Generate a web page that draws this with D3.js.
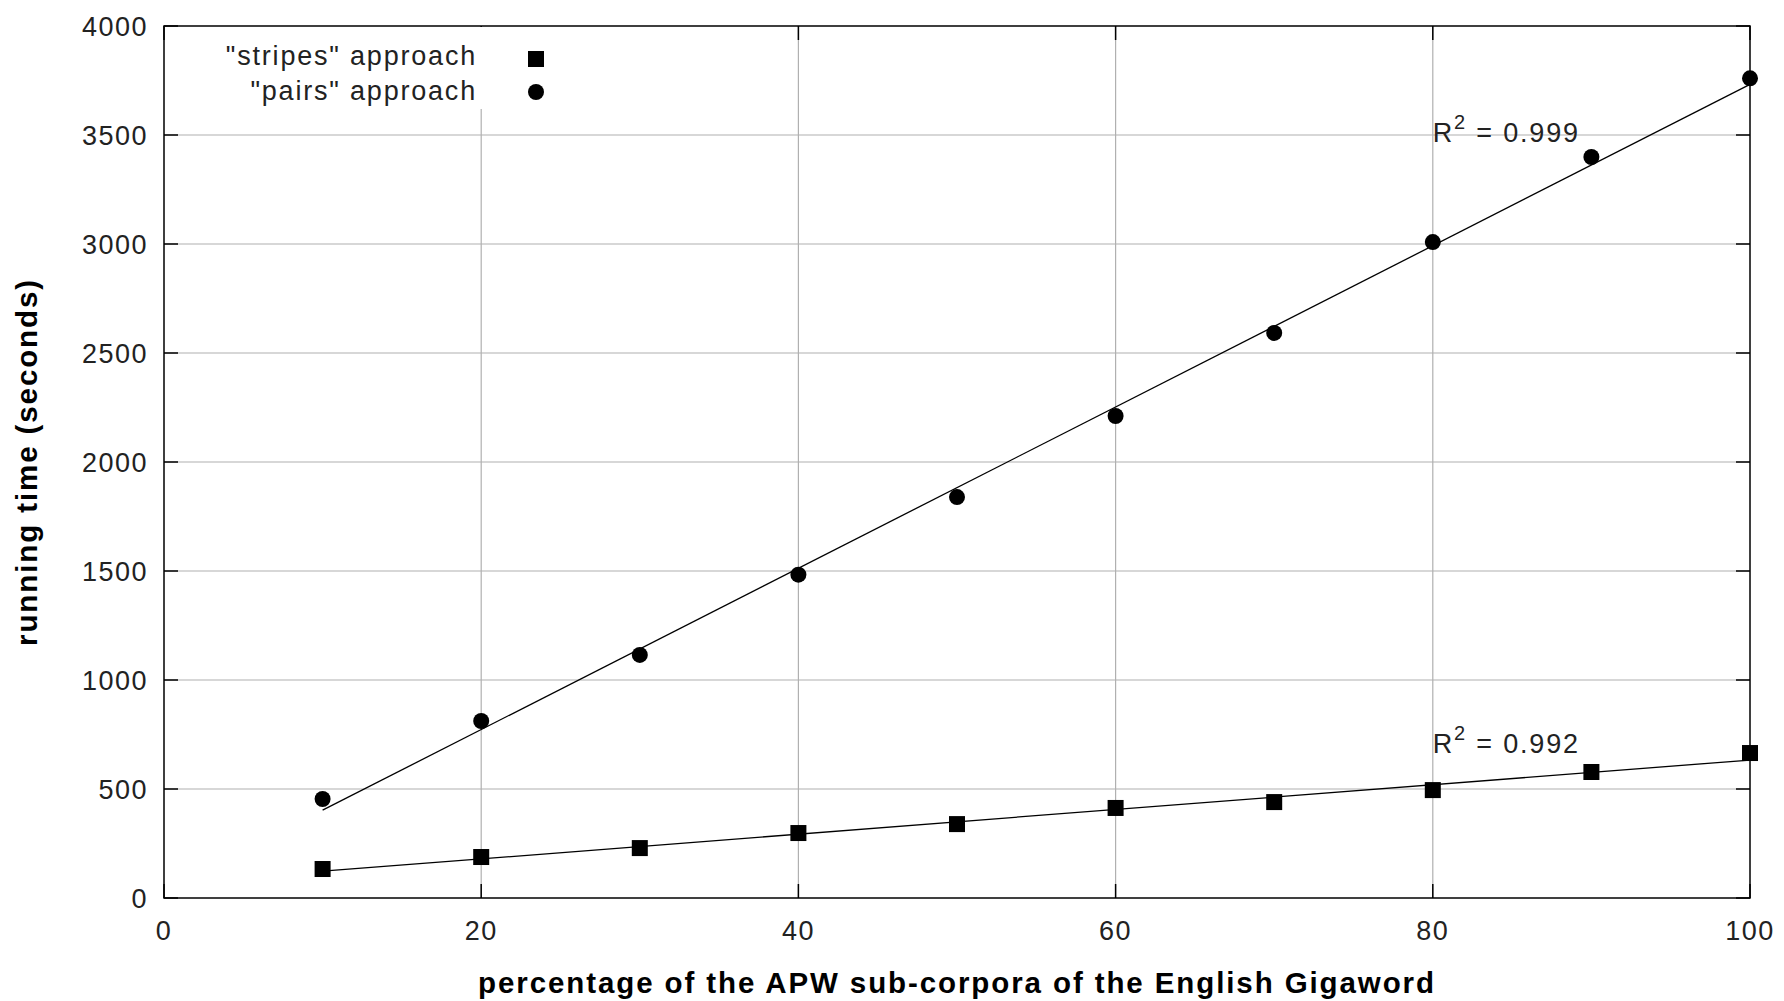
<!DOCTYPE html>
<html>
<head>
<meta charset="utf-8">
<script src="https://cdn.jsdelivr.net/npm/d3@7"></script>
<style>
  html, body { margin: 0; padding: 0; background: #fff; }
  svg { display: block; font-family: "Liberation Sans", Arial, sans-serif; }
  .tick-label { font-size: 27px; fill: #222; letter-spacing: 1.5px; }
  .axis-title { font-size: 29.5px; font-weight: bold; fill: #000; letter-spacing: 1.9px; }
  .legend-label, .r2-label { font-size: 27px; fill: #222; letter-spacing: 1.8px; }
</style>
</head>
<body>
<div id="chart"></div>
<script>
// data
const percentages = [10, 20, 30, 40, 50, 60, 70, 80, 90, 100];
const stripesTimes = [133, 188, 229, 298, 339, 413, 440, 495, 578, 665];
const pairsTimes = [454, 812, 1115, 1483, 1839, 2211, 2592, 3009, 3399, 3760];

const xTicks = [0, 20, 40, 60, 80, 100];
const yTicks = [0, 500, 1000, 1500, 2000, 2500, 3000, 3500, 4000];

const seriesNames = ['"stripes" approach', '"pairs" approach'];
const r2Values = ["0.992", "0.999"];
const r2AnchorX = [80, 80];
const r2AnchorY = [665, 3470];

const xTitle = "percentage of the APW sub-corpora of the English Gigaword";
const yTitle = "running time (seconds)";

function linearFit(xs, ys) {
    const mx = d3.mean(xs);
    const my = d3.mean(ys);
    const sxy = d3.sum(xs, (x, i) => (x - mx) * (ys[i] - my));
    const sxx = d3.sum(xs, x => (x - mx) ** 2);
    const slope = sxy / sxx;
    return { slope, intercept: my - slope * mx };
}

function drawChart() {
    const width = 1784;
    const height = 1001;
    const margin = { top: 26, right: 34, bottom: 103, left: 164 };

    const svg = d3.select("#chart")
        .append("svg")
        .attr("width", width)
        .attr("height", height);

    const x = d3.scaleLinear().domain([0, 100]).range([margin.left, width - margin.right]);
    const y = d3.scaleLinear().domain([0, 4000]).range([height - margin.bottom, margin.top]);

    const left = x.range()[0], right = x.range()[1];
    const top = y.range()[1], bottom = y.range()[0];

    // grid
    const grid = svg.append("g").attr("stroke", "#b0b0b0").attr("stroke-width", 1.2);
    grid.selectAll(".vgrid")
        .data(xTicks.slice(1, -1))
        .enter().append("line")
        .attr("x1", d => x(d)).attr("x2", d => x(d))
        .attr("y1", top).attr("y2", bottom);
    grid.selectAll(".hgrid")
        .data(yTicks.slice(1, -1))
        .enter().append("line")
        .attr("x1", left).attr("x2", right)
        .attr("y1", d => y(d)).attr("y2", d => y(d));

    // inward ticks on all four sides
    const tickLen = 14;
    const ticks = svg.append("g").attr("stroke", "#000").attr("stroke-width", 1.5);
    xTicks.forEach(t => {
        ticks.append("line").attr("x1", x(t)).attr("x2", x(t)).attr("y1", bottom).attr("y2", bottom - tickLen);
        ticks.append("line").attr("x1", x(t)).attr("x2", x(t)).attr("y1", top).attr("y2", top + tickLen);
    });
    yTicks.forEach(t => {
        ticks.append("line").attr("x1", left).attr("x2", left + tickLen).attr("y1", y(t)).attr("y2", y(t));
        ticks.append("line").attr("x1", right).attr("x2", right - tickLen).attr("y1", y(t)).attr("y2", y(t));
    });

    // tick labels
    svg.append("g").selectAll("text")
        .data(xTicks)
        .enter().append("text")
        .attr("class", "tick-label")
        .attr("x", d => x(d))
        .attr("y", bottom + 42)
        .attr("text-anchor", "middle")
        .text(d => d);

    svg.append("g").selectAll("text")
        .data(yTicks)
        .enter().append("text")
        .attr("class", "tick-label")
        .attr("x", left - 16)
        .attr("y", d => y(d))
        .attr("dy", "0.36em")
        .attr("text-anchor", "end")
        .text(d => d);

    // legend (white box hides the grid behind it)
    const legend = svg.append("g");
    legend.append("rect")
        .attr("x", x(3.5)).attr("y", top + 1)
        .attr("width", 340).attr("height", 82)
        .attr("fill", "#fff");

    // trend lines
    const series = [
        { name: seriesNames[0], values: stripesTimes, shape: "square" },
        { name: seriesNames[1], values: pairsTimes, shape: "circle" }
    ];

    const lineGroup = svg.append("g").attr("stroke", "#000").attr("stroke-width", 1.3).attr("fill", "none");
    series.forEach(s => {
        const fit = linearFit(percentages, s.values);
        const x0 = d3.min(percentages), x1 = d3.max(percentages);
        lineGroup.append("line")
            .attr("x1", x(x0)).attr("y1", y(fit.intercept + fit.slope * x0))
            .attr("x2", x(x1)).attr("y2", y(fit.intercept + fit.slope * x1));
    });

    // frame
    svg.append("rect")
        .attr("x", left).attr("y", top)
        .attr("width", right - left).attr("height", bottom - top)
        .attr("fill", "none").attr("stroke", "#000").attr("stroke-width", 1.5);

    // markers
    const markSize = 16;
    svg.append("g").selectAll("rect")
        .data(stripesTimes)
        .enter().append("rect")
        .attr("x", (d, i) => x(percentages[i]) - markSize / 2)
        .attr("y", d => y(d) - markSize / 2)
        .attr("width", markSize).attr("height", markSize)
        .attr("fill", "#000");

    svg.append("g").selectAll("circle")
        .data(pairsTimes)
        .enter().append("circle")
        .attr("cx", (d, i) => x(percentages[i]))
        .attr("cy", d => y(d))
        .attr("r", 8)
        .attr("fill", "#000");

    // legend entries
    const legendX = 477, markerX = 536;
    series.forEach((s, i) => {
        legend.append("text")
            .attr("class", "legend-label")
            .attr("x", legendX)
            .attr("y", 65 + i * 35)
            .attr("text-anchor", "end")
            .text(s.name);
        if (s.shape === "square") {
            legend.append("rect")
                .attr("x", markerX - markSize / 2).attr("y", 59 - markSize / 2)
                .attr("width", markSize).attr("height", markSize).attr("fill", "#000");
        } else {
            legend.append("circle")
                .attr("cx", markerX).attr("cy", 59 + i * 33).attr("r", 8).attr("fill", "#000");
        }
    });

    // R^2 annotations
    r2Values.forEach((v, i) => {
        const t = svg.append("text")
            .attr("class", "r2-label")
            .attr("x", x(r2AnchorX[i]))
            .attr("y", y(r2AnchorY[i]));
        t.append("tspan").text("R");
        t.append("tspan").attr("dy", -13).style("font-size", "20px").text("2");
        t.append("tspan").attr("dy", 13).text(" = " + v);
    });

    // axis titles
    svg.append("text")
        .attr("class", "axis-title")
        .attr("x", (left + right) / 2)
        .attr("y", 993)
        .attr("text-anchor", "middle")
        .text(xTitle);

    svg.append("text")
        .attr("class", "axis-title")
        .attr("transform", `translate(37,${(top + bottom) / 2}) rotate(-90)`)
        .attr("text-anchor", "middle")
        .text(yTitle);
}

drawChart();
</script>
</body>
</html>
